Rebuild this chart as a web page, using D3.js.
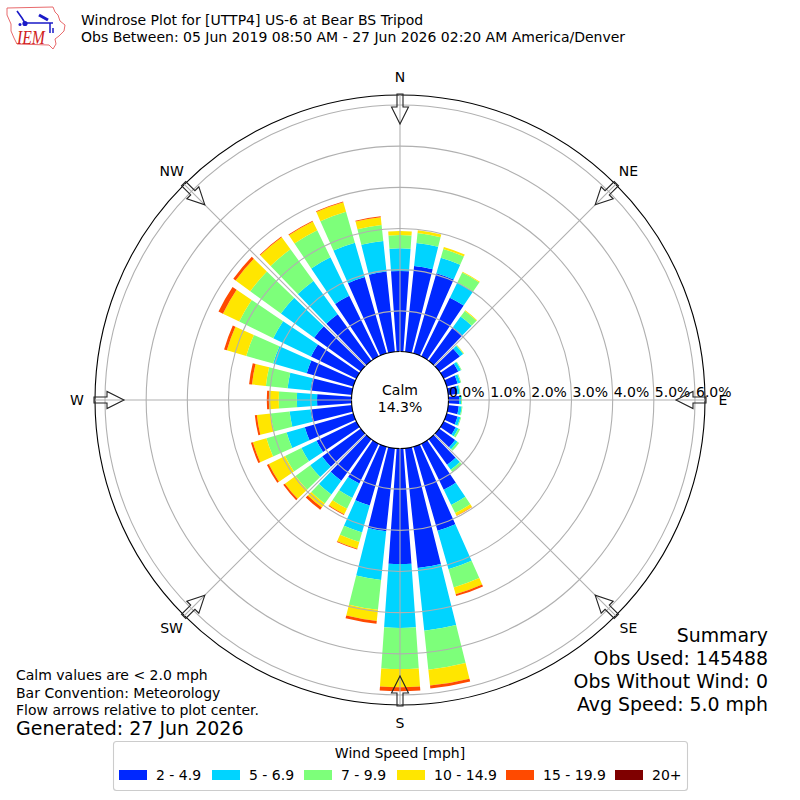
<!DOCTYPE html>
<html><head><meta charset="utf-8">
<style>html,body{margin:0;padding:0;background:#fff}svg{display:block}text{font-family:"DejaVu Sans",sans-serif;fill:#000}</style>
<script src="https://cdn.jsdelivr.net/npm/d3@7"></script>
</head><body><svg id="c" width="800" height="800"></svg>
<script>
const directions=d3.range(36).map(i=>i*10);
const s2to5 =[1.97,2.11,2.04,1.60,1.02,.63,.41,.29,.24,.27,.27,.29,.34,.49,.78,1.26,2.14,2.94,2.82,2.04,1.50,1.09,1.26,1.17,1.09,1.24,1.02,.85,1.02,1.19,1.24,1.41,1.41,1.65,1.94,1.97];
const s5to7 =[.55,.56,.39,.41,.32,.10,.07,.07,.05,.05,.07,.07,.07,.07,.15,.41,.97,1.53,1.55,1.19,.68,.39,.41,.36,.41,.46,.51,.49,.56,.85,1.02,1.00,1.00,1.04,.87,.75];
const s7to10=[.32,.24,.22,.27,.17,.02,.02,.02,.02,.02,.02,.02,.05,.05,.07,.22,.46,.95,1.00,.73,.24,.29,.27,.44,.44,.51,.46,.44,.53,.68,.92,.92,.95,.73,.78,.39];
const s10to15=[.10,.07,.05,.02,.02,.01,0,0,0,0,0,0,0,0,0,.07,.17,.39,.44,.27,.17,.15,.12,.32,.44,.34,.34,.24,.34,.49,.44,.44,.36,.24,.24,.19];
const s15to20=[0,0,0,0,0,0,0,0,0,0,0,0,0,0,0,.01,.05,.07,.10,.07,.02,.02,.07,.05,.05,.05,.05,.05,.07,.07,.12,.07,.02,.02,.02,.02];
const s20up =directions.map(()=>0);
const speedSeries=[s2to5,s5to7,s7to10,s10to15,s15to20,s20up];
const speedLabels=["2 - 4.9","5 - 6.9","7 - 9.9","10 - 14.9","15 - 19.9","20+"];
const speedColors=["#0028ff","#00d4ff","#7dff7a","#ffe600","#ff4a00","#7f0000"];
const rTicks=[0,1,2,3,4,5,6];
const compass=[["N",0],["NE",45],["E",90],["SE",135],["S",180],["SW",225],["W",270],["NW",315]];

const cx=400,cy=400;
const svg=d3.select("#c");
const r=d3.scaleLinear().domain([0,6]).range([48,295]);
const rOuter=305;
const rad=d=>d*Math.PI/180;
const pol=(deg,rr)=>[cx+rr*Math.sin(rad(deg)),cy-rr*Math.cos(rad(deg))];
const plot=svg.append("g").attr("transform",`translate(${cx},${cy})`);

// bars
const arc=d3.arc();
directions.forEach((dir,i)=>{
  let base=0;
  speedSeries.forEach((s,k)=>{
    const v=s[i]; if(v<=0){return;}
    plot.append("path").attr("fill",speedColors[k]).attr("d",arc({
      innerRadius:r(base),outerRadius:r(base+v),
      startAngle:rad(dir-4),endAngle:rad(dir+4)}));
    base+=v;
  });
});

// grid
rTicks.slice(1).forEach(t=>plot.append("circle").attr("r",r(t)).attr("fill","none").attr("stroke","#b0b0b0").attr("stroke-width",1.1));
compass.forEach(([_,d])=>{
  const a=pol(d,48),b=pol(d,rOuter);
  svg.append("line").attr("x1",a[0]).attr("y1",a[1]).attr("x2",b[0]).attr("y2",b[1]).attr("stroke","#b0b0b0").attr("stroke-width",1.1);
});
// spines
plot.append("circle").attr("r",rOuter).attr("fill","none").attr("stroke","#000").attr("stroke-width",1.1);
plot.append("circle").attr("r",48.5).attr("fill","#fff").attr("stroke","#000").attr("stroke-width",1.1);

// r tick labels
rTicks.forEach(t=>svg.append("text").attr("x",cx+r(t)+1).attr("y",397).attr("font-size",14).text(t.toFixed(1)+"%"));

// arrows and compass labels
compass.forEach(([name,d])=>{
  const g=svg.append("g").attr("transform",`translate(${cx},${cy}) rotate(${d})`);
  g.append("path").attr("d","M0,-276 L8.5,-293 L3,-293 L3,-306 L-3,-306 L-3,-293 L-8.5,-293 Z")
    .attr("fill","none").attr("stroke","#222").attr("stroke-width",1.1).attr("stroke-linejoin","miter");
  const p=pol(d,323);
  svg.append("text").attr("x",p[0]).attr("y",p[1]-0.5).attr("text-anchor","middle").attr("dy","0.37em").attr("font-size",14).text(name);
});

// center
svg.append("text").attr("x",cx).attr("y",395).attr("text-anchor","middle").attr("font-size",14).text("Calm");
svg.append("text").attr("x",cx).attr("y",412).attr("text-anchor","middle").attr("font-size",14).text("14.3%");

// titles
svg.append("text").attr("x",81).attr("y",25).attr("font-size",14).text("Windrose Plot for [UTTP4] US-6 at Bear BS Tripod");
svg.append("text").attr("x",81).attr("y",42).attr("font-size",14).text("Obs Between: 05 Jun 2019 08:50 AM - 27 Jun 2026 02:20 AM America/Denver");

// summary
[["Summary",642],["Obs Used: 145488",665],["Obs Without Wind: 0",688],["Avg Speed: 5.0 mph",711]].forEach(([t,y])=>
  svg.append("text").attr("x",768).attr("y",y).attr("text-anchor","end").attr("font-size",18.9).text(t));

// notes
[["Calm values are < 2.0 mph",680],["Bar Convention: Meteorology",698],["Flow arrows relative to plot center.",715]].forEach(([t,y])=>
  svg.append("text").attr("x",16).attr("y",y).attr("font-size",14).text(t));
svg.append("text").attr("x",16).attr("y",735).attr("font-size",19).text("Generated: 27 Jun 2026");

// legend
const lg=svg.append("g");
lg.append("rect").attr("x",113.5).attr("y",741.5).attr("width",574).attr("height",49).attr("rx",3).attr("fill","#fff").attr("stroke","#ccc").attr("stroke-width",1.1);
lg.append("text").attr("x",400).attr("y",758).attr("text-anchor","middle").attr("font-size",14).text("Wind Speed [mph]");
const patchX=[119,212,304,397,506,615];
speedLabels.forEach((l,i)=>{
  lg.append("rect").attr("x",patchX[i]).attr("y",770).attr("width",28).attr("height",10).attr("fill",speedColors[i]);
  lg.append("text").attr("x",patchX[i]+37).attr("y",780).attr("font-size",14).text(l);
});

// logo
const logo=svg.append("g");
logo.append("path").attr("d","M7,8 L53,7 L55,12 L58,15 L60,21 L65,25 L64,31 L59,36 L55,39 L56,44 L53,49 L49,45 L17,44 L14,38 L11,31 L11,24 L7,15 Z")
  .attr("fill","none").attr("stroke","#e86a6c").attr("stroke-width",1);
logo.append("path").attr("d","M25,23 L53,23 M17,11 L22,18 L25,23").attr("fill","none").attr("stroke","#1a1ac8").attr("stroke-width",1.6);
logo.append("path").attr("d","M39,15 L48,20").attr("fill","none").attr("stroke","#1a1ac8").attr("stroke-width",3);
logo.append("path").attr("d","M50,23 L50,33 M53,28 L53,33").attr("fill","none").attr("stroke","#1a1ac8").attr("stroke-width",1.5);
logo.append("circle").attr("cx",25).attr("cy",23.5).attr("r",2.6).attr("fill","#1a1ac8");
logo.append("circle").attr("cx",20).attr("cy",24.5).attr("r",1.5).attr("fill","#1a1ac8");
logo.append("text").attr("x",17).attr("y",44).attr("font-size",18).attr("textLength",28).attr("lengthAdjust","spacingAndGlyphs").style("font-family","'Liberation Serif',serif").style("font-style","italic").style("fill","#d02020").text("IEM");
</script></body></html>
